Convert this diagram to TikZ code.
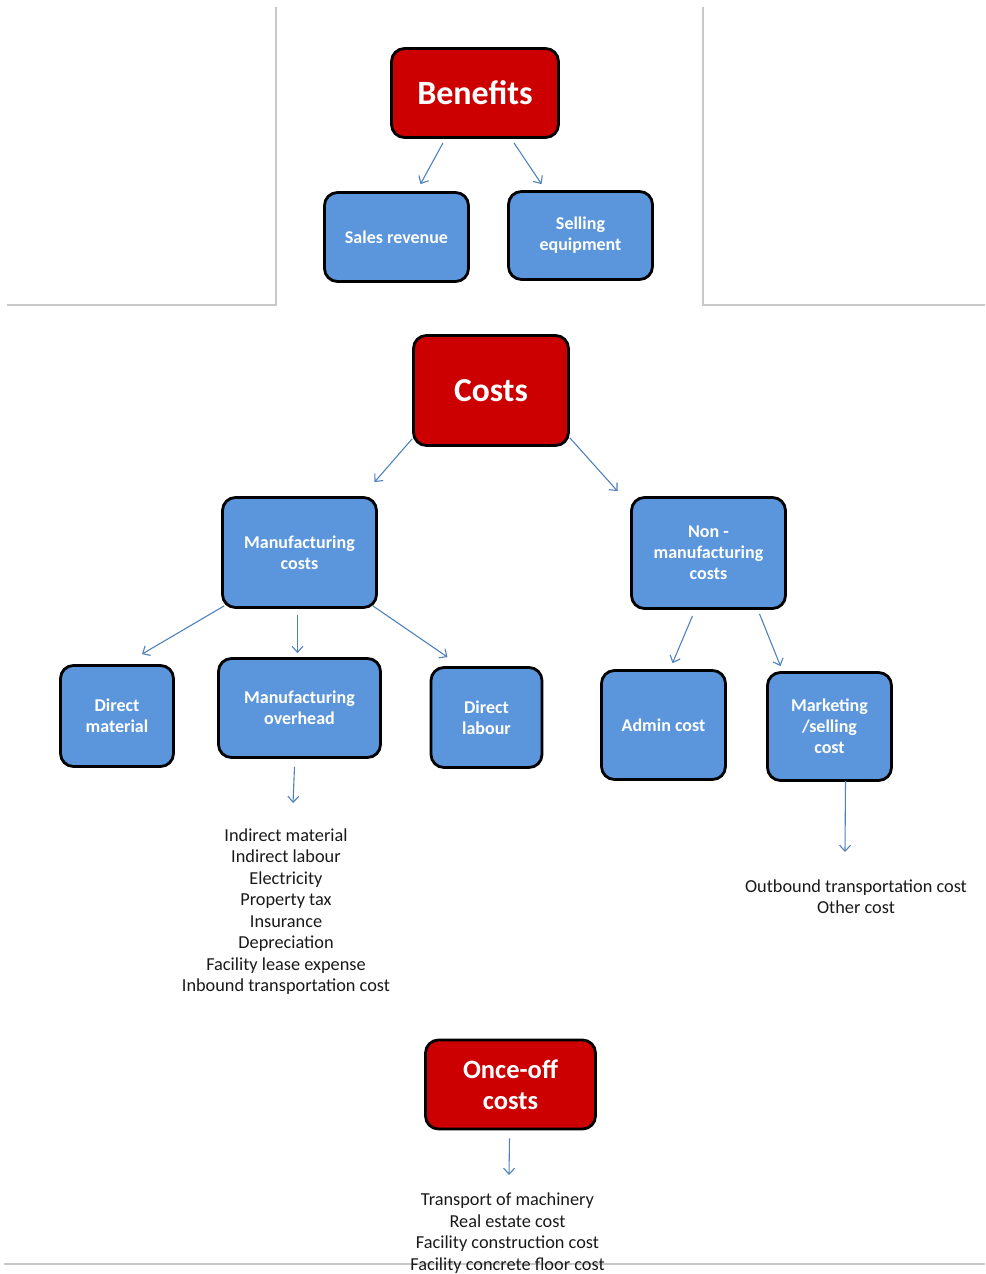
\documentclass[tikz,border=0pt]{standalone}
\usepackage{fontspec}
\setmainfont{Carlito}
\usetikzlibrary{arrows.meta}
\definecolor{boxblue}{RGB}{91,150,220}
\definecolor{boxred}{RGB}{204,0,0}
\definecolor{arrowblue}{RGB}{79,129,189}
\definecolor{framegray}{RGB}{200,200,200}
\begin{document}
\begin{tikzpicture}[x=1pt,y=-1pt,
  box/.style={draw=black, line width=2.8pt, rounded corners=13pt, text=white,
    font=\bfseries\fontsize{18}{21}\selectfont, align=center, inner sep=0pt},
  bluebox/.style={box, fill=boxblue},
  redbox/.style={box, fill=boxred},
  conn/.style={draw=arrowblue, line width=1.1pt, -{Straight Barb[length=6pt,width=11pt]}},
  listtext/.style={font=\fontsize{18.3}{21.5}\selectfont, align=center, inner sep=0pt, text=black!90},
  frameline/.style={draw=framegray, line width=1.5pt}
]
\path[use as bounding box] (0,0) rectangle (985,1274);
% frame lines
\draw[frameline] (276,7) -- (276,305) -- (7,305);
\draw[frameline] (703,7) -- (703,305) -- (985,305);
\draw[frameline] (4,1264) -- (985,1264);

% boxes
\node[redbox, minimum width=167pt, minimum height=89pt, font=\bfseries\fontsize{34}{38}\selectfont] (benefits) at (475,93) {Benefits};
\node[bluebox, minimum width=144pt, minimum height=89pt] (sales) at (396.5,237) {Sales revenue};
\node[bluebox, minimum width=144pt, minimum height=88pt] (selling) at (580.5,235.5) {Selling\\equipment};
\node[redbox, minimum width=155pt, minimum height=110pt, font=\bfseries\fontsize{33.5}{38}\selectfont] (costs) at (491,390.5) {Costs};
\node[bluebox, minimum width=154pt, minimum height=110pt] (mfg) at (299.5,552.5) {Manufacturing\\costs};
\node[bluebox, minimum width=154pt, minimum height=111pt] (nonmfg) at (708.5,553) {Non -\\manufacturing\\costs};
\node[bluebox, minimum width=113pt, minimum height=101pt] (dmat) at (117,716) {Direct\\material};
\node[bluebox, minimum width=162pt, minimum height=99pt] (overhead) at (299.5,708) {Manufacturing\\overhead};
\node[bluebox, minimum width=111pt, minimum height=100pt] (dlab) at (486.5,717.5) {Direct\\labour};
\node[bluebox, minimum width=124pt, minimum height=109pt] (admin) at (663.5,725) {Admin cost};
\node[bluebox, minimum width=124pt, minimum height=108pt] (mkt) at (829.5,726.5) {Marketing\\/selling\\cost};
\node[redbox, minimum width=170pt, minimum height=89pt, font=\bfseries\fontsize{26.5}{31}\selectfont] (onceoff) at (510.5,1084.5) {Once-off\\costs};

% lists
\node[listtext, anchor=north] (ohlist) at (286,828.5) {Indirect material\\Indirect labour\\Electricity\\Property tax\\Insurance\\Depreciation\\Facility lease expense\\Inbound transportation cost};
\node[listtext, anchor=north] (mktlist) at (856,879.5) {Outbound transportation cost\\Other cost};
\node[listtext, anchor=north] (oncelist) at (507.5,1193) {Transport of machinery\\Real estate cost\\Facility construction cost\\Facility concrete floor cost};

% connectors
\draw[conn] ([xshift=-32pt,yshift=-4pt]benefits.south) -- ([xshift=24pt,yshift=7pt]sales.north);
\draw[conn] ([xshift=39pt,yshift=-4pt]benefits.south) -- ([xshift=-39pt,yshift=6pt]selling.north);
\draw[conn] ([yshift=8pt]costs.south west) -- ([xshift=75pt,yshift=14pt]mfg.north);
\draw[conn] ([yshift=9pt]costs.south east) -- ([xshift=-91pt,yshift=5pt]nonmfg.north);
\draw[conn] ([xshift=3pt,yshift=3pt]mfg.south west) -- ([xshift=25pt,yshift=10pt]dmat.north);
\draw[conn] ([xshift=-2pt,yshift=-6pt]mfg.south) -- ([xshift=-2pt,yshift=4pt]overhead.north);
\draw[conn] ([xshift=-5pt,yshift=3pt]mfg.south east) -- ([xshift=-39pt,yshift=9pt]dlab.north);
\draw[conn] ([xshift=-16pt,yshift=-6pt]nonmfg.south) -- ([xshift=9pt,yshift=6pt]admin.north);
\draw[conn] ([xshift=51pt,yshift=-4pt]nonmfg.south) -- ([xshift=-49pt,yshift=5pt]mkt.north);
\draw[conn] ([xshift=16pt,yshift=1pt]mkt.south) -- ([xshift=-11pt,yshift=27.5pt]mktlist.north);
\draw[conn] ([xshift=-5pt,yshift=-8pt]overhead.south) -- ([xshift=7pt,yshift=25.5pt]ohlist.north);
\draw[conn] ([xshift=-1pt,yshift=-8pt]onceoff.south) -- ([xshift=1.5pt,yshift=18pt]oncelist.north);
\end{tikzpicture}
\end{document}
